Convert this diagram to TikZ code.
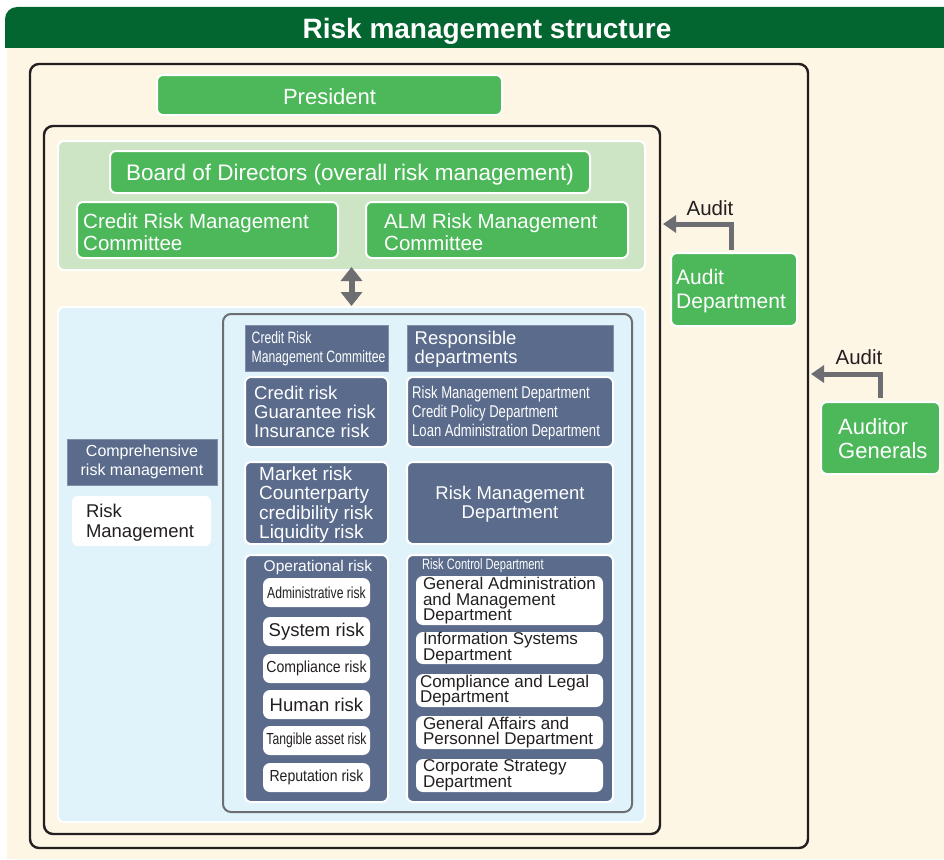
\documentclass[tikz,border=0pt]{standalone}
\usepackage{fontspec}
\usepackage{graphicx}
\setmainfont{Liberation Sans}
\usetikzlibrary{arrows.meta}
\definecolor{titlegreen}{HTML}{03652F}
\definecolor{cream}{HTML}{FDF6E5}
\definecolor{mygreen}{HTML}{4CB85A}
\definecolor{pgreen}{HTML}{CDE5C4}
\definecolor{pblue}{HTML}{E0F2FA}
\definecolor{slate}{HTML}{5A6B8C}
\definecolor{agray}{HTML}{6D6E71}
\definecolor{ink}{HTML}{231F20}
\newcommand\fsz[2]{\fontsize{#1}{#2}\selectfont}
\newcommand\cx[2]{\scalebox{#1}[1]{#2}}
\newcommand\bx[7]{\node[#6, minimum width={(#4)-(#2)}, minimum height={(#5)-(#3)}, inner sep=0pt] (#1) at ({((#2)+(#4))/2},{((#3)+(#5))/2}) {#7};}
\tikzset{
  frame/.style={draw=ink, line width=2.4pt, rounded corners=9pt},
  greenbox/.style={fill=mygreen, draw=white, line width=2pt, rounded corners=6pt, text=white},
  slatebox/.style={fill=slate, draw=white, line width=2pt, rounded corners=6pt, text=white},
  slatehead/.style={fill=slate, draw=slate!75!white, line width=1pt, text=white},
  pill/.style={fill=white, rounded corners=7pt, text=ink},
  panel/.style={draw=white, line width=2pt, rounded corners=6pt},
  ltext/.style={anchor=west, align=left, inner sep=0pt},
  pilltext/.style={anchor=west, align=left, inner sep=0pt, text=ink, font=\fsz{17}{15.5}},
  audarrow/.style={draw=agray, line width=5pt, -{Triangle[width=17pt,length=13pt]}},
  dblarrow/.style={draw=agray, line width=6pt, {Triangle[width=21pt,length=14pt]}-{Triangle[width=21pt,length=14pt]}},
}
\begin{document}
\begin{tikzpicture}[x=1pt,y=-1pt]
\useasboundingbox (0,0) rectangle (944,859);
\clip (0,0) rectangle (944,859);
% title band and background
\fill[titlegreen] (5,48) [rounded corners=12pt] -- (5,7) [sharp corners] -- (980,7) -- (980,48) -- cycle;
\fill[cream] (7,48) rectangle (944,859);
\node[font=\bfseries\fsz{28}{30}, text=white] (title) at (487,31) {Risk management structure};
% frames
\bx{outer}{30}{64}{808}{848}{frame}{}
\bx{president}{157}{75}{502}{115}{greenbox}{}
\node[text=white, font=\fsz{22}{24}, inner sep=0pt] (president-t) at ([yshift=-1.5pt]president.center) {President};
\bx{inner}{44}{126}{660}{834}{frame}{}
% green panel
\bx{gpanel}{58}{141}{645}{270}{panel, fill=pgreen}{}
\bx{board}{110}{151}{590}{193}{greenbox}{}
\node[text=white, font=\fsz{22.5}{24}, inner sep=0pt] (board-t) at ([yshift=-2.5pt]board.center) {Board of Directors (overall risk management)};
\bx{crmc}{77}{202}{338}{258}{greenbox}{}
\node[ltext, text=white, font=\fsz{20.5}{22}] (crmc-t) at ([xshift=7pt,yshift=-2pt]crmc.west) {Credit Risk Management\\Committee};
\bx{alm}{366}{202}{628}{258}{greenbox}{}
\node[ltext, text=white, font=\fsz{20.5}{22}] (alm-t) at ([xshift=19pt,yshift=-2pt]alm.west) {ALM Risk Management\\Committee};
% blue panel
\bx{bpanel}{58}{307}{645}{822}{panel, fill=pblue}{}
\draw[dblarrow] ([yshift=4pt]gpanel.south) -- (bpanel.north);
\bx{graybox}{223}{314}{632}{812}{draw=agray, line width=2pt, rounded corners=8pt, fill=pblue}{}
% left side
\bx{comp}{67}{439}{217}{485}{slatehead, align=center, font=\fsz{16}{19}}{Comprehensive\\risk management}
\bx{rm}{72}{496}{211}{546}{pill, rounded corners=6pt}{}
\node[ltext, text=ink, font=\fsz{18.5}{20}] (rm-t) at ([xshift=14pt,yshift=-1.5pt]rm.west) {Risk\\Management};
% headers
\bx{hcr}{245}{325}{388}{371}{slatehead}{}
\node[ltext, text=white, font=\fsz{16.5}{19}] (hcr-t) at ([xshift=7pt,yshift=-1pt]hcr.west) {\cx{0.74}{Credit Risk}\\\cx{0.74}{Management Committee}};
\bx{hrd}{407}{325}{613}{371}{slatehead}{}
\node[ltext, text=white, font=\fsz{18.5}{19}] (hrd-t) at ([xshift=8pt,yshift=-1.5pt]hrd.west) {Responsible\\departments};
% row 1
\bx{b1}{245}{377}{388}{447}{slatebox}{}
\node[ltext, text=white, font=\fsz{18.5}{19}] (b1-t) at ([xshift=10pt]b1.west) {Credit risk\\Guarantee risk\\Insurance risk};
\bx{d1}{407}{377}{613}{447}{slatebox}{}
\node[ltext, text=white, font=\fsz{17}{19}] (d1-t) at ([xshift=6pt,yshift=-1pt]d1.west) {\cx{0.77}{Risk Management Department}\\\cx{0.77}{Credit Policy Department}\\\cx{0.77}{Loan Administration Department}};
% row 2
\bx{b2}{245}{462}{388}{544}{slatebox}{}
\node[ltext, text=white, font=\fsz{19}{19.5}] (b2-t) at ([xshift=15pt,yshift=-1.5pt]b2.west) {Market risk\\Counterparty\\credibility risk\\Liquidity risk};
\bx{d2}{407}{462}{613}{544}{slatebox}{}
\node[text=white, align=center, font=\fsz{18.5}{19}, inner sep=0pt] (d2-t) at ([yshift=-1.5pt]d2.center) {Risk Management\\Department};
% row 3
\bx{b3}{245}{555}{388}{802}{slatebox}{}
\node[text=white, font=\fsz{15.5}{17}, inner sep=0pt] (b3-t) at (318,567) {Operational risk};
\bx{p1}{263}{578}{370}{607}{pill, font=\fsz{16}{18}}{\cx{0.76}{Administrative risk}}
\bx{p2}{263}{617}{370}{646}{pill, font=\fsz{18.5}{20}}{System risk}
\bx{p3}{263}{654}{370}{683}{pill, font=\fsz{16}{18}}{\cx{0.88}{Compliance risk}}
\bx{p4}{263}{690}{370}{719}{pill, font=\fsz{18.5}{20}}{Human risk}
\bx{p5}{263}{726}{370}{755}{pill, font=\fsz{16}{18}}{\cx{0.76}{Tangible asset risk}}
\bx{p6}{263}{763}{370}{792}{pill, font=\fsz{16}{18}}{\cx{0.88}{Reputation risk}}
\bx{d3}{407}{555}{613}{802}{slatebox}{}
\node[ltext, text=white, font=\fsz{15}{17}] (d3-t) at (422,566) {\cx{0.74}{Risk Control Department}};
\bx{q1}{416}{576}{603}{625}{pill}{}
\node[pilltext] (q1-t) at ([xshift=7pt,yshift=-0.5pt]q1.west) {General Administration\\and Management\\Department};
\bx{q2}{416}{632}{603}{664}{pill}{}
\node[pilltext] (q2-t) at ([xshift=7pt]q2.west) {Information Systems\\Department};
\bx{q3}{416}{674}{603}{707}{pill}{}
\node[pilltext] (q3-t) at ([xshift=4pt]q3.west) {Compliance and Legal\\Department};
\bx{q4}{416}{716}{603}{749}{pill}{}
\node[pilltext] (q4-t) at ([xshift=7pt]q4.west) {General Affairs and\\Personnel Department};
\bx{q5}{416}{759}{603}{792}{pill}{}
\node[pilltext] (q5-t) at ([xshift=7pt]q5.west) {Corporate Strategy\\Department};
% audit side
\bx{auddept}{671}{253}{797}{326}{greenbox}{}
\node[ltext, text=white, font=\fsz{21}{24}] (auddept-t) at ([xshift=6pt,yshift=-1.5pt]auddept.west) {Audit\\Department};
\bx{audgen}{821}{402}{940}{474}{greenbox}{}
\node[ltext, text=white, font=\fsz{22}{24}] (audgen-t) at ([xshift=18pt,yshift=-1pt]audgen.west) {Auditor\\Generals};
\coordinate (t1) at (663,224);
\coordinate (t2) at (811,374);
\draw[audarrow] ([xshift=-3pt,yshift=2pt]auddept.north) |- (t1);
\draw[audarrow] ([yshift=3pt]audgen.north) |- (t2);
\node[text=ink, font=\fsz{20.5}{22}] (lab1) at (710,208) {Audit};
\node[text=ink, font=\fsz{20.5}{22}] (lab2) at (859,357) {Audit};
\end{tikzpicture}
\end{document}
